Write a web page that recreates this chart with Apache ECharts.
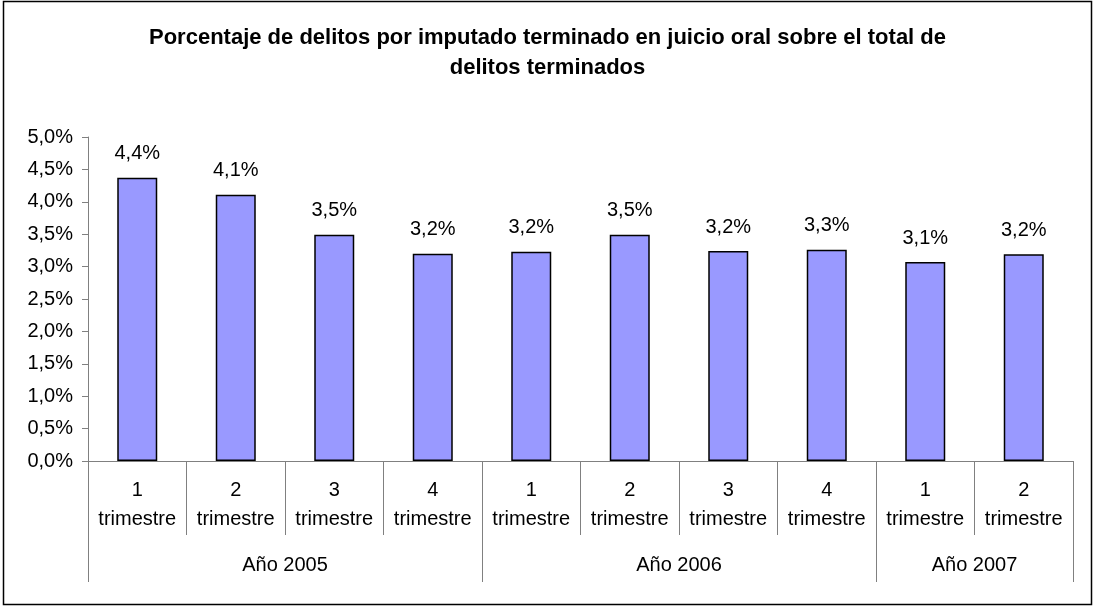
<!DOCTYPE html>
<html>
<head>
<meta charset="utf-8">
<script src="https://cdn.jsdelivr.net/npm/echarts@6/dist/echarts.min.js"></script>
<style>html,body{margin:0;padding:0;background:#fff;}#c{width:1095px;height:607px;}</style>
</head>
<body>
<div id="c"></div>
<script>
var titleText = 'Porcentaje de delitos por imputado terminado en juicio oral sobre el total de\ndelitos terminados';
var quarters = ['1\ntrimestre','2\ntrimestre','3\ntrimestre','4\ntrimestre','1\ntrimestre','2\ntrimestre','3\ntrimestre','4\ntrimestre','1\ntrimestre','2\ntrimestre'];
var values = [4.37, 4.11, 3.49, 3.20, 3.23, 3.49, 3.24, 3.26, 3.07, 3.19];
var years = ['Año 2005', 'Año 2006', 'Año 2007'];
var yearCenters = [2, 6, 9];
var yearBounds = [0, 4, 8, 10];

var FONT = '"Liberation Sans", Arial, sans-serif';
var chart = echarts.init(document.getElementById('c'), null, {renderer: 'canvas'});
function pct(v, d) { return v.toFixed(d).replace('.', ',') + '%'; }
chart.setOption({
  animation: false,
  backgroundColor: '#fff',
  title: {
    text: titleText, left: 'center', top: 18,
    textStyle: {fontFamily: FONT, fontWeight: 'bold', fontSize: 22, lineHeight: 30, color: '#000'}
  },
  graphic: [{
    type: 'rect', shape: {x: 3.5, y: 1.5, width: 1088, height: 603},
    style: {fill: null, stroke: '#000', lineWidth: 1.5}, silent: true
  }],
  grid: {left: 88, right: 22, top: 137, bottom: 146},
  xAxis: [{
    type: 'category', data: quarters, position: 'bottom',
    axisLine: {show: true, lineStyle: {color: '#808080', width: 1}},
    axisTick: {show: true, interval: 0, alignWithLabel: false, length: 74, lineStyle: {color: '#808080'}},
    axisLabel: {interval: 0, margin: 15, fontFamily: FONT, fontSize: 20, lineHeight: 29, color: '#000'}
  }, {
    type: 'value', min: 0, max: 10, position: 'bottom',
    axisLine: {show: false},
    splitLine: {show: false},
    axisTick: {show: true, customValues: yearBounds, length: 121, lineStyle: {color: '#808080'}},
    axisLabel: {customValues: yearCenters, margin: 94, fontFamily: FONT, fontSize: 20, color: '#000',
      formatter: function (v) { var i = yearCenters.indexOf(v); return i >= 0 ? years[i] : ''; }}
  }],
  yAxis: {
    type: 'value', min: 0, max: 5, interval: 0.5,
    axisLine: {show: true, lineStyle: {color: '#808080'}},
    axisTick: {show: true, length: 6, lineStyle: {color: '#808080'}},
    splitLine: {show: false},
    axisLabel: {margin: 15, fontFamily: FONT, fontSize: 20, color: '#000', formatter: function (v) { return pct(v, 1); }}
  },
  series: [{
    type: 'bar', data: values, xAxisIndex: 0, barWidth: 40,
    itemStyle: {color: '#9999FF', borderColor: '#000', borderWidth: 1.5},
    label: {show: true, position: 'top', distance: 14, fontFamily: FONT, fontSize: 20, color: '#000',
      formatter: function (p) { return pct(p.value, 1); }}
  }]
});
</script>
</body>
</html>
